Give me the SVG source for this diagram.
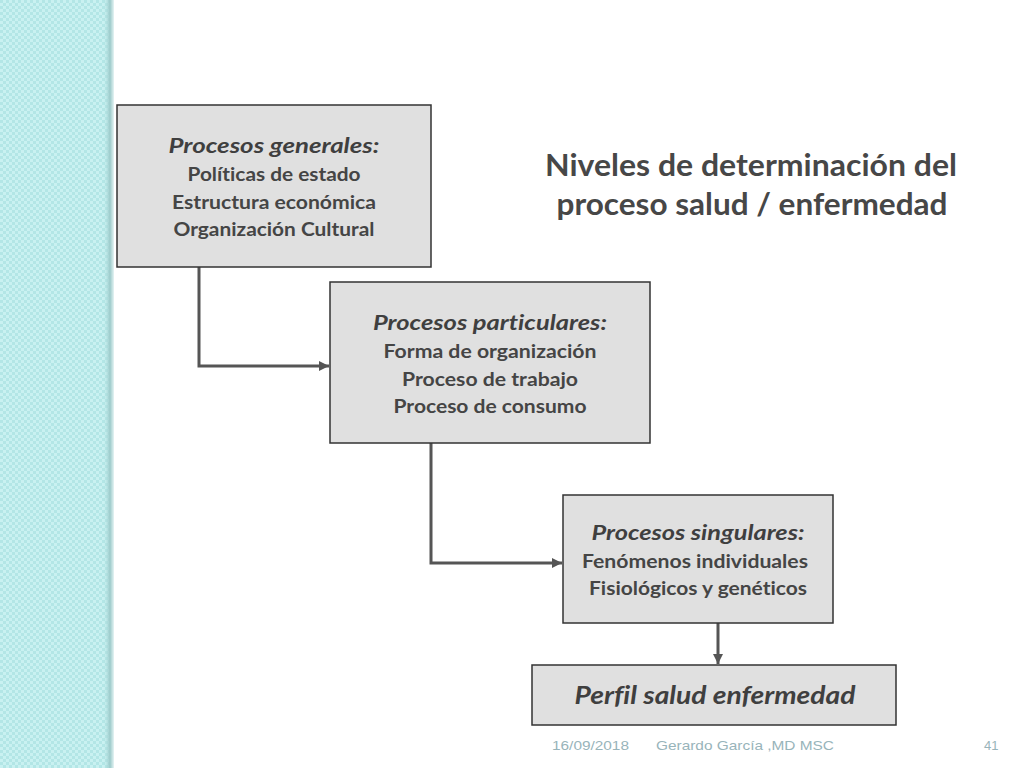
<svg xmlns="http://www.w3.org/2000/svg" width="1024" height="768" viewBox="0 0 1024 768">
<defs>
<pattern id="chk" width="6" height="6" patternUnits="userSpaceOnUse">
<rect width="6" height="6" fill="#c9f1f1"/>
<rect width="3" height="3" fill="#b3e6e6"/>
<rect x="3" y="3" width="3" height="3" fill="#b3e6e6"/>
</pattern>
<linearGradient id="shade" x1="0" y1="0" x2="1" y2="0">
<stop offset="0" stop-color="#b3e0e0" stop-opacity="0"/>
<stop offset="0.6" stop-color="#9ccaca"/>
<stop offset="1" stop-color="#e6f4f4"/>
</linearGradient>
<marker id="ah" viewBox="0 0 10 10" refX="10" refY="5" markerWidth="12" markerHeight="10" markerUnits="userSpaceOnUse" orient="auto">
<path d="M0,0 L10,5 L0,10 Z" fill="#555555"/>
</marker>
<style>
text{font-variant-ligatures:none;font-feature-settings:"liga" 0,"dlig" 0}
.box{fill:#e0e0e0;stroke:#333333;stroke-width:1.5}
.hd{font-family:Lato,"Open Sans","Liberation Sans",sans-serif;font-weight:bold;font-style:italic;fill:#3f3f3f;text-anchor:middle}
.ln{font-family:Lato,"Open Sans","Liberation Sans",sans-serif;font-weight:bold;fill:#454545;text-anchor:middle}
.ttl{font-family:Lato,"Open Sans","Liberation Sans",sans-serif;font-weight:bold;fill:#474747;text-anchor:middle;font-size:30px}
.ft{font-family:"Liberation Sans",Arial,sans-serif;font-size:13px;fill:#98b4ba}
.cn{fill:none;stroke:#555555;stroke-width:3}
</style>
</defs>
<rect width="1024" height="768" fill="#ffffff"/>
<rect x="0" y="0" width="112" height="768" fill="url(#chk)"/>
<rect x="104" y="0" width="10" height="768" fill="url(#shade)"/>

<g id="title">
<text class="ttl" x="751" y="176" textLength="412" lengthAdjust="spacingAndGlyphs">Niveles de determinación del</text>
<text class="ttl" x="752" y="215" textLength="391" lengthAdjust="spacingAndGlyphs">proceso salud / enfermedad</text>
</g>

<g id="connectors">
<polyline class="cn" points="199,267 199,366 329,366" marker-end="url(#ah)"/>
<polyline class="cn" points="431,443 431,563 562,563" marker-end="url(#ah)"/>
<polyline class="cn" points="718,623 718,664" marker-end="url(#ah)"/>
</g>

<g id="node-generales">
<rect class="box" x="117" y="105" width="314" height="162"/>
<text class="hd" x="274" y="153" font-size="21" textLength="211" lengthAdjust="spacingAndGlyphs">Procesos generales:</text>
<text class="ln" x="274" y="181" font-size="18.5" textLength="173" lengthAdjust="spacingAndGlyphs">Políticas de estado</text>
<text class="ln" x="274" y="209" font-size="18.5" textLength="204" lengthAdjust="spacingAndGlyphs">Estructura económica</text>
<text class="ln" x="274" y="236" font-size="18.5" textLength="201" lengthAdjust="spacingAndGlyphs">Organización Cultural</text>
</g>

<g id="node-particulares">
<rect class="box" x="330" y="282" width="320" height="161"/>
<text class="hd" x="490" y="330" font-size="21" textLength="234" lengthAdjust="spacingAndGlyphs">Procesos particulares:</text>
<text class="ln" x="490" y="358" font-size="18.5" textLength="213" lengthAdjust="spacingAndGlyphs">Forma de organización</text>
<text class="ln" x="490" y="386" font-size="18.5" textLength="176" lengthAdjust="spacingAndGlyphs">Proceso de trabajo</text>
<text class="ln" x="490" y="413" font-size="18.5" textLength="193" lengthAdjust="spacingAndGlyphs">Proceso de consumo</text>
</g>

<g id="node-singulares">
<rect class="box" x="563" y="495" width="270" height="128"/>
<text class="hd" x="698" y="540" font-size="21" textLength="213" lengthAdjust="spacingAndGlyphs">Procesos singulares:</text>
<text class="ln" x="695" y="568" font-size="18.5" textLength="226" lengthAdjust="spacingAndGlyphs">Fenómenos individuales</text>
<text class="ln" x="698" y="595" font-size="18.5" textLength="218" lengthAdjust="spacingAndGlyphs">Fisiológicos y genéticos</text>
</g>

<g id="node-perfil">
<rect class="box" x="532" y="665" width="364" height="60"/>
<text class="hd" x="715" y="704" font-size="24" textLength="281" lengthAdjust="spacingAndGlyphs">Perfil salud enfermedad</text>
</g>

<g id="footer">
<text class="ft" x="552" y="750" textLength="77" lengthAdjust="spacingAndGlyphs">16/09/2018</text>
<text class="ft" x="656" y="750" textLength="178" lengthAdjust="spacingAndGlyphs">Gerardo García ,MD MSC</text>
<text class="ft" x="984" y="750">41</text>
</g>
</svg>
